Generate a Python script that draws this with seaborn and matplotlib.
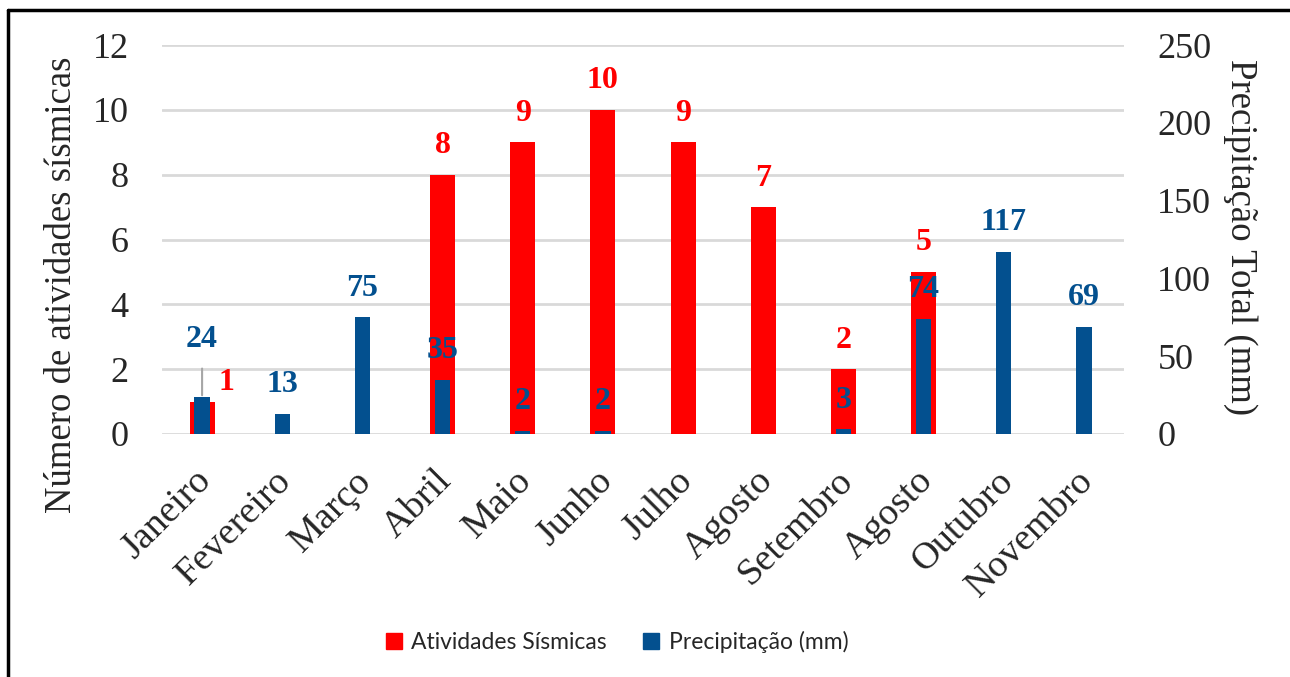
import numpy as np
import pandas as pd
import matplotlib.pyplot as plt
import matplotlib.transforms as mtransforms
from matplotlib.lines import Line2D
from matplotlib.patches import Patch
import seaborn as sns

# Dados do gráfico
meses = ['Janeiro', 'Fevereiro', 'Março', 'Abril', 'Maio', 'Junho', 'Julho',
         'Agosto', 'Setembro', 'Agosto', 'Outubro', 'Novembro']
sismos = [1, 0, 0, 8, 9, 10, 9, 7, 2, 5, 0, 0]
precipitacao = [24, 13, 75, 35, 2, 2, 0, 0, 3, 74, 117, 69]

VERMELHO = '#FF0000'
AZUL = '#03508F'

sns.set_style('white')
plt.rcParams['font.family'] = ['Liberation Serif', 'DejaVu Serif']

df = pd.DataFrame({'pos': np.arange(len(meses)), 'sismos': sismos, 'prec': precipitacao})

fig = plt.figure(figsize=(12.9, 6.77), dpi=100)
W, H = 1290, 677
ax = fig.add_axes([162 / W, 1 - 434 / H, (1124 - 162) / W, (434 - 45) / H])
ax2 = ax.twinx()

sns.barplot(data=df, x='pos', y='sismos', color=VERMELHO, width=0.31, saturation=1,
            linewidth=0, ax=ax)
sns.barplot(data=df, x='pos', y='prec', color=AZUL, width=0.19, saturation=1,
            linewidth=0, ax=ax2)

for a in (ax, ax2):
    a.set_xlim(-0.5, len(meses) - 0.5)
    for s in a.spines.values():
        s.set_visible(False)
    a.tick_params(length=0, labelsize=26)
    a.set_xlabel('')
    a.set_ylabel('')

ax.set_ylim(0, 12)
ax.set_yticks(range(0, 13, 2))
ax2.set_ylim(0, 250)
ax2.set_yticks(range(0, 251, 50))
ax.tick_params(axis='y', pad=24)
ax2.tick_params(axis='y', pad=24)
ax.yaxis.grid(True, color='#D9D9D9', lw=2)
ax.set_axisbelow(True)
ax.set_zorder(1)
ax2.set_zorder(2)
ax.patch.set_visible(False)

ax.set_xticks(range(len(meses)))
ax.set_xticklabels(meses, rotation=45, ha='right', va='center', rotation_mode='anchor')
ax.tick_params(axis='x', pad=30, labelsize=27.5)
# leve deslocamento para a direita, como no Excel
desloc = mtransforms.ScaledTranslation(4 / 100, 0, fig.dpi_scale_trans)
for lbl in ax.get_xticklabels():
    lbl.set_transform(lbl.get_transform() + desloc)

# rótulos de dados
px = 72 / 100
for i, v in enumerate(sismos):
    if v == 0:
        continue
    off = (24 * px, 19 * px) if i == 0 else (0, 29 * px)
    ax.annotate(str(v), (i, v), xytext=off, textcoords='offset points',
                ha='center', va='center', color=VERMELHO, fontsize=23, fontweight='bold')

for i, v in enumerate(precipitacao):
    if v == 0:
        continue
    if i == 0:
        ax2.annotate(str(v), (i, v), xytext=(0, 57 * px), textcoords='offset points',
                     ha='center', va='center', color=AZUL, fontsize=23, fontweight='bold',
                     arrowprops=dict(arrowstyle='-', color='#A6A6A6', lw=1.5,
                                     shrinkA=8, shrinkB=1))
    else:
        ax2.annotate(str(v), (i, v), xytext=(0, 29 * px), textcoords='offset points',
                     ha='center', va='center', color=AZUL, fontsize=23, fontweight='bold')

fig.text(62 / W, 1 - 285 / H, 'Número de atividades sísmicas', rotation=90,
         ha='center', va='center', fontsize=26.5)
fig.text(1240 / W, 1 - 237 / H, 'Precipitação Total (mm)', rotation=270,
         ha='center', va='center', fontsize=26.5)

handles = [Patch(color=VERMELHO, label='Atividades Sísmicas'),
           Patch(color=AZUL, label='Precipitação (mm)')]
fig.legend(handles=handles, loc='center', bbox_to_anchor=(617 / W, 1 - 642 / H), ncol=2,
           frameon=False, prop={'family': 'Lato', 'size': 16.5}, handlelength=0.7,
           handleheight=0.7, handletextpad=0.4, columnspacing=1.6)

# moldura (esquerda e topo)
fig.add_artist(Line2D([8 / W, 8 / W], [0, 1 - 10 / H], color='black', lw=2.5))
fig.add_artist(Line2D([8 / W, 1], [1 - 10 / H, 1 - 10 / H], color='black', lw=2.5))

fig.savefig('out.png', dpi=100)
